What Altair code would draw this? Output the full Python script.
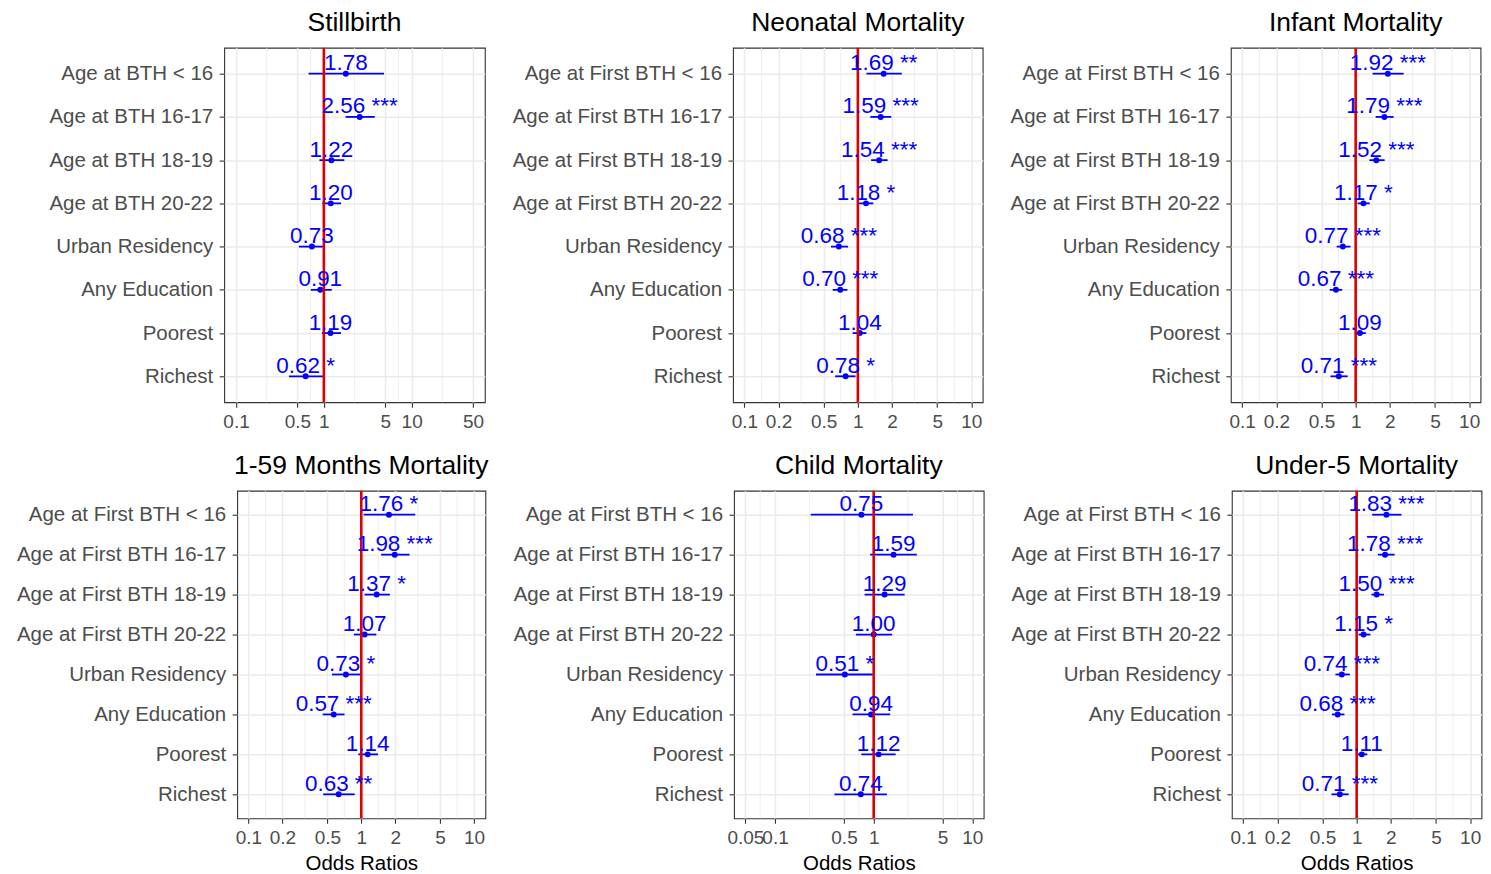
import math
import altair as alt
import pandas as pd

FONT = "Liberation Sans"

labels_still = ["Age at BTH < 16", "Age at BTH 16-17", "Age at BTH 18-19", "Age at BTH 20-22",
                "Urban Residency", "Any Education", "Poorest", "Richest"]
labels_first = ["Age at First BTH < 16", "Age at First BTH 16-17", "Age at First BTH 18-19",
                "Age at First BTH 20-22", "Urban Residency", "Any Education", "Poorest", "Richest"]

ticks_a = [0.1, 0.5, 1, 5, 10, 50]
ticks_b = [0.1, 0.2, 0.5, 1, 2, 5, 10]
ticks_c = [0.05, 0.1, 0.5, 1, 5, 10]

# Stillbirth
still_or = [1.78, 2.56, 1.22, 1.20, 0.73, 0.91, 1.19, 0.62]
still_lo = [0.67, 1.77, 0.89, 0.96, 0.52, 0.71, 0.95, 0.40]
still_hi = [4.85, 3.80, 1.71, 1.57, 1.03, 1.23, 1.57, 0.99]
still_sig = ["", "***", "", "", "", "", "", "*"]

# Neonatal mortality
neo_or = [1.69, 1.59, 1.54, 1.18, 0.68, 0.70, 1.04, 0.78]
neo_lo = [1.19, 1.29, 1.31, 1.01, 0.58, 0.60, 0.90, 0.63]
neo_hi = [2.44, 1.97, 1.83, 1.37, 0.82, 0.81, 1.19, 0.955]
neo_sig = ["**", "***", "***", "*", "***", "***", "", "*"]

# Infant mortality
inf_or = [1.92, 1.79, 1.52, 1.17, 0.77, 0.67, 1.09, 0.71]
inf_lo = [1.41, 1.50, 1.32, 1.04, 0.68, 0.59, 0.98, 0.60]
inf_hi = [2.65, 2.16, 1.80, 1.33, 0.90, 0.76, 1.23, 0.85]
inf_sig = ["***", "***", "***", "*", "***", "***", "", "***"]

# 1-59 months mortality
m159_or = [1.76, 1.98, 1.37, 1.07, 0.73, 0.57, 1.14, 0.63]
m159_lo = [1.05, 1.50, 1.07, 0.86, 0.55, 0.455, 0.94, 0.46]
m159_hi = [3.01, 2.68, 1.79, 1.36, 0.98, 0.71, 1.41, 0.875]
m159_sig = ["*", "***", "*", "", "*", "***", "", "**"]

# Child mortality
child_or = [0.75, 1.59, 1.29, 1.00, 0.51, 0.94, 1.12, 0.74]
child_lo = [0.23, 0.92, 0.81, 0.66, 0.26, 0.61, 0.75, 0.40]
child_hi = [2.50, 2.74, 2.06, 1.54, 0.98, 1.47, 1.67, 1.36]
child_sig = ["", "", "", "", "*", "", "", ""]

# Under-5 mortality
u5_or = [1.83, 1.78, 1.50, 1.15, 0.74, 0.68, 1.11, 0.71]
u5_lo = [1.37, 1.54, 1.35, 1.04, 0.65, 0.605, 1.03, 0.60]
u5_hi = [2.48, 2.16, 1.74, 1.32, 0.87, 0.78, 1.24, 0.85]
u5_sig = ["***", "***", "***", "*", "***", "***", "", "***"]


def anchor(px, py):
    # invisible layout anchor (no data), used only to fix the outer bounds of a spacer
    return alt.Chart(pd.DataFrame({"a": [0]})).mark_point(
        opacity=0, size=1, strokeWidth=0).encode(x=alt.value(px), y=alt.value(py))


def spacer(w, ys):
    return alt.layer(*[anchor(0, y) for y in ys]).properties(
        width=w, height=1, view=alt.ViewBackground(stroke="transparent", strokeWidth=0))


def panel(title, cats, orv, lo, hi, sig, ticks, limits, width, height, xtitle):
    df = pd.DataFrame({
        "cat": cats, "or": orv, "lo": lo, "hi": hi,
        "lab": [f"{v:.2f}\u00a0{s}" for v, s in zip(orv, sig)],
    })
    l0, l1 = math.log10(limits[0]), math.log10(limits[1])
    r = l1 - l0
    dom = [10 ** (l0 - 0.05 * r), 10 ** (l1 + 0.05 * r)]
    minor = [math.sqrt(a * b) for a, b in zip(ticks[:-1], ticks[1:])]
    xs = alt.Scale(type="log", domain=dom, nice=False)
    if xtitle:
        xaxis = alt.Axis(values=ticks, format="~g", grid=True, labelOverlap=False,
                         labelFlush=False, title=xtitle)
    else:
        xaxis = alt.Axis(values=ticks, format="~g", grid=True, labelOverlap=False,
                         labelFlush=False, title=None)
    ys = alt.Y("cat:N", sort=cats, scale=alt.Scale(type="point", padding=0.6),
               axis=alt.Axis(title=None, grid=True, labelLimit=500))
    base = alt.Chart(df)
    mg = alt.Chart(pd.DataFrame({"m": minor})).mark_rule(
        color="#EBEBEB", strokeWidth=0.8).encode(x=alt.X("m:Q", scale=xs, axis=xaxis))
    err = base.mark_rule(color="#0000FF", strokeWidth=1.8).encode(
        x=alt.X("lo:Q", scale=xs, axis=xaxis), x2="hi:Q", y=ys)
    pts = base.mark_circle(color="#0000FF", opacity=1, size=36).encode(
        x=alt.X("or:Q", scale=xs, axis=xaxis), y=ys)
    vline = alt.Chart(pd.DataFrame({"ref": [1]})).mark_rule(
        color="#DD0000", strokeWidth=2.6).encode(x=alt.X("ref:Q", scale=xs, axis=xaxis))
    txt = base.mark_text(align="center", baseline="alphabetic", dy=-3.5, fontSize=22.5,
                         font=FONT, color="#0000FF").encode(
        x=alt.X("or:Q", scale=xs, axis=xaxis), y=ys, text="lab:N")
    return alt.layer(mg, err, pts, vline, txt).properties(
        width=width, height=height, title=alt.TitleParams(title))


H1, H2 = 355, 328
p1 = panel("Stillbirth", labels_still, still_or, still_lo, still_hi, still_sig,
           ticks_a, [0.1, 50], 261, H1, None)
p2 = panel("Neonatal Mortality", labels_first, neo_or, neo_lo, neo_hi, neo_sig,
           ticks_b, [0.1, 10], 250, H1, None)
p3 = panel("Infant Mortality", labels_first, inf_or, inf_lo, inf_hi, inf_sig,
           ticks_b, [0.1, 10], 250, H1, None)
p4 = panel("1-59 Months Mortality", labels_first, m159_or, m159_lo, m159_hi, m159_sig,
           ticks_b, [0.1, 10], 248.5, H2, "Odds Ratios")
p5 = panel("Child Mortality", labels_first, child_or, child_lo, child_hi, child_sig,
           ticks_c, [0.05, 10], 250, H2, "Odds Ratios")
p6 = panel("Under-5 Mortality", labels_first, u5_or, u5_lo, u5_hi, u5_sig,
           ticks_b, [0.1, 10], 250, H2, "Odds Ratios")

GAP = 248.5
row1 = alt.hconcat(spacer(1, [-50, H1 + 36]), p1, p2, p3, spacing=GAP, bounds="flush")
row2 = alt.hconcat(spacer(13.5, [-50, H2 + 60]), p4, p5, p6, spacing=GAP, bounds="flush")

chart = alt.vconcat(row1, row2, spacing=0.6).properties(
    padding={"left": -34, "top": -11.8, "right": 0, "bottom": 0}
).configure_view(stroke="#333333", strokeWidth=1.1).configure_axis(
    domain=False, tickColor="#333333", tickSize=5, tickWidth=1.1,
    labelColor="#4D4D4D", labelFont=FONT, gridColor="#EBEBEB", gridWidth=1.5,
    titleFont=FONT, titleColor="black", titleFontWeight="normal", titleFontSize=20.5,
).configure_axisX(labelFontSize=19, labelPadding=5, titlePadding=6.5).configure_axisY(
    labelFontSize=20.5, labelPadding=6.5
).configure_title(
    font=FONT, fontSize=26.5, fontWeight="normal", color="black", anchor="middle",
    frame="group", offset=10
)

chart.save("out.html", embed_options={"renderer": "svg", "actions": False})
